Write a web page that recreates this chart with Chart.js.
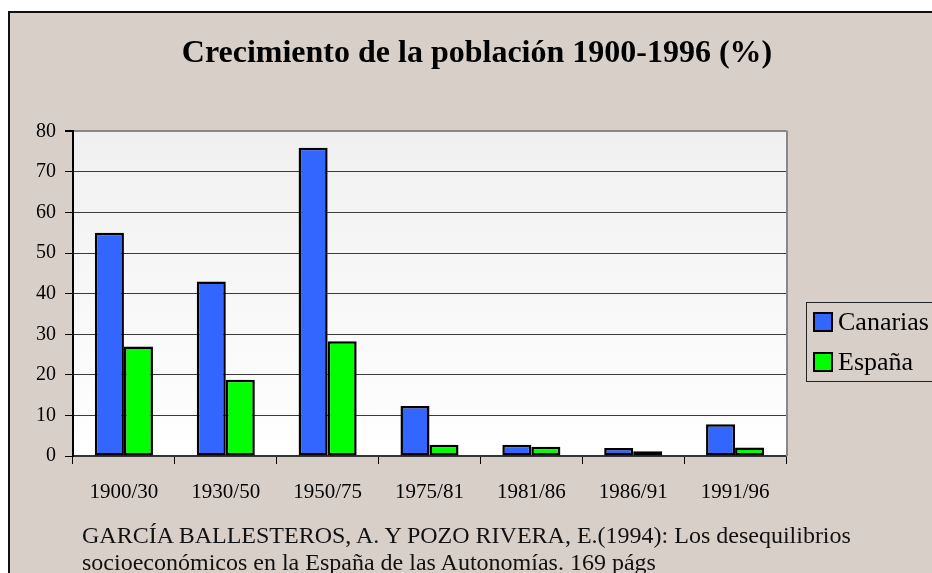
<!DOCTYPE html>
<html>
<head>
<meta charset="utf-8">
<script src="https://cdn.jsdelivr.net/npm/chart.js@4/dist/chart.umd.min.js"></script>
<style>
  html, body { margin: 0; padding: 0; background: #fff; overflow: hidden; width: 932px; height: 573px; }
  #marco {
    position: absolute; left: 8px; top: 11px; width: 960px; height: 600px;
    background: #d8cfc9; border-left: 2px solid #111; border-top: 2px solid #111;
  }
  #grafico { position: absolute; left: 0; top: 0; }
  #fuente {
    position: absolute; left: 82px; top: 522px; width: 850px;
    font-family: "Liberation Serif", "Times New Roman", serif; font-size: 24px; line-height: 27px;
    color: #111; white-space: nowrap;
  }
</style>
</head>
<body>
<div id="marco"></div>
<canvas id="grafico" width="954" height="573"></canvas>
<div id="fuente">GARCÍA BALLESTEROS, A. Y POZO RIVERA, E.(1994): Los desequilibrios<br>socioeconómicos en la España de las Autonomías. 169 págs</div>
<script>
// Datos del gráfico
const periodos = ['1900/30', '1930/50', '1950/75', '1975/81', '1981/86', '1986/91', '1991/96'];
const canarias = [55, 43, 76, 12.3, 2.8, 2.0, 7.8];
const espana = [27, 18.8, 28.3, 2.8, 2.3, 1.2, 2.1];
const ticksY = [0, 10, 20, 30, 40, 50, 60, 70, 80];

const fuenteSerif = "'Liberation Serif', 'Times New Roman', serif";

// Fondo degradado del área de trazado y borde derecho gris
const fondoPlot = {
    id: 'fondoPlot',
    beforeDatasetsDraw(chart) {
        const { ctx, chartArea: a } = chart;
        ctx.save();
        const g = ctx.createLinearGradient(0, a.top, 0, a.bottom);
        g.addColorStop(0, '#f0f0f0');
        g.addColorStop(1, '#ffffff');
        ctx.globalCompositeOperation = 'destination-over';
        ctx.fillStyle = g;
        ctx.fillRect(a.left, a.top, a.right - a.left, a.bottom - a.top);
        ctx.restore();
    },
    afterDraw(chart) {
        const { ctx, chartArea: a } = chart;
        ctx.save();
        ctx.strokeStyle = '#888';
        ctx.lineWidth = 2;
        ctx.beginPath();
        ctx.moveTo(a.right + 1, a.top - 1);
        ctx.lineTo(a.right + 1, a.bottom);
        ctx.stroke();
        ctx.restore();
    }
};

// Leyenda con recuadro, a la derecha
const leyenda = {
    id: 'leyenda',
    afterDraw(chart) {
        const ctx = chart.ctx;
        const x = 806, y = 302;
        ctx.save();
        ctx.strokeStyle = '#222';
        ctx.lineWidth = 1;
        ctx.strokeRect(x + 0.5, y + 0.5, 200, 79);
        ctx.font = '26px ' + fuenteSerif;
        ctx.textBaseline = 'middle';
        chart.data.datasets.forEach((ds, i) => {
            const cy = y + 20 + i * 40;
            ctx.fillStyle = ds.backgroundColor;
            ctx.fillRect(x + 8, cy - 9, 18, 18);
            ctx.strokeStyle = '#000';
            ctx.lineWidth = 2;
            ctx.strokeRect(x + 8, cy - 9, 18, 18);
            ctx.fillStyle = '#000';
            ctx.fillText(ds.label, x + 32, cy + 1);
        });
        ctx.restore();
    }
};

const ctx = document.getElementById('grafico').getContext('2d');
new Chart(ctx, {
    type: 'bar',
    data: {
        labels: periodos,
        datasets: [
            { label: 'Canarias', data: canarias, backgroundColor: '#3366ff', borderColor: '#000', borderWidth: 2.5, borderSkipped: false },
            { label: 'España', data: espana, backgroundColor: '#00ff00', borderColor: '#000', borderWidth: 2.5, borderSkipped: false }
        ]
    },
    options: {
        responsive: false,
        animation: false,
        devicePixelRatio: 1,
        layout: { padding: 0 },
        datasets: { bar: { categoryPercentage: 0.57, barPercentage: 1 } },
        plugins: {
            legend: { display: false },
            tooltip: { enabled: false },
            title: {
                display: true,
                text: 'Crecimiento de la población 1900-1996 (%)',
                color: '#000',
                font: { family: fuenteSerif, size: 32, weight: 'bold' },
                padding: { top: 35, bottom: 58 }
            }
        },
        scales: {
            x: {
                grid: { offset: true, drawOnChartArea: false, tickLength: 8, color: '#000' },
                border: { color: '#333', width: 1.5 },
                ticks: { color: '#000', font: { family: fuenteSerif, size: 21 }, padding: 16 },
                afterFit(s) { s.height = 117; }
            },
            y: {
                min: 0,
                max: 80,
                afterBuildTicks(s) { s.ticks = ticksY.map(v => ({ value: v })); },
                grid: {
                    color: c => (c.tick && c.tick.value === 80) ? '#888' : '#3a3a3a',
                    lineWidth: c => (c.tick && c.tick.value === 80) ? 2 : 1,
                    tickLength: 8,
                    tickColor: '#000'
                },
                border: { color: '#000', width: 2 },
                ticks: { color: '#000', font: { family: fuenteSerif, size: 20 }, padding: 9 },
                afterFit(s) { s.width = 73; }
            },
            // eje vacío a la derecha: deja sitio para la leyenda
            margen: {
                position: 'right',
                min: 0,
                max: 80,
                grid: { display: false },
                border: { display: false },
                ticks: { display: false },
                afterFit(s) { s.width = 168; }
            }
        }
    },
    plugins: [fondoPlot, leyenda]
});
</script>
</body>
</html>
